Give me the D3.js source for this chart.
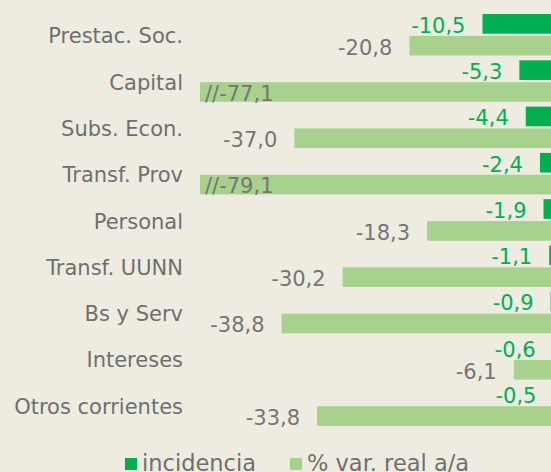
<!DOCTYPE html>
<html>
<head>
<meta charset="utf-8">
<script src="https://cdn.jsdelivr.net/npm/d3@7"></script>
<style>
  html, body { margin: 0; padding: 0; background: #eeece1; }
  svg { display: block; }
</style>
</head>
<body>
<svg id="chart" width="551" height="472"></svg>
<script>
const categories = ["Prestac. Soc.", "Capital", "Subs. Econ.", "Transf. Prov", "Personal", "Transf. UUNN", "Bs y Serv", "Intereses", "Otros corrientes"];
const incidencia = [-10.5, -5.3, -4.4, -2.4, -1.9, -1.1, -0.9, -0.6, -0.5];
const varReal = [-20.8, -77.1, -37.0, -79.1, -18.3, -30.2, -38.8, -6.1, -33.8];
const axisBreak = -50.3;
const seriesNames = ["incidencia", "% var. real a/a"];
const seriesKeys = ["inc", "var"];
const colors = { inc: "#00b050", var: "#a9d18e" };
const labelColors = { inc: "#00b050", var: "#757575" };

const W = 551, H = 472;
const svg = d3.select("#chart");
svg.append("rect").attr("width", W).attr("height", H).attr("fill", "#eeece1");

const x = d3.scaleLinear().domain([axisBreak, 0]).range([200, 557]).clamp(true);
const y = d3.scaleBand().domain(categories).range([11.7, 428.2]).paddingInner(0.1037).paddingOuter(0.05);
const sub = d3.scaleBand().domain(seriesKeys).range([0, y.bandwidth()]).paddingInner(0.1);

const fmt = v => d3.format(".1f")(v).replace(".", ",").replace("−", "-");
const font = "'DejaVu Sans', sans-serif";

const rows = categories.map((c, i) => ({ cat: c, inc: incidencia[i], var: varReal[i] }));

// category labels
svg.append("g").selectAll("text").data(rows).join("text")
  .attr("x", 183)
  .attr("y", d => y(d.cat) + 29.3)
  .attr("text-anchor", "end")
  .attr("font-family", font)
  .attr("font-size", 21)
  .attr("fill", "#6f6f6f")
  .text(d => d.cat);

seriesKeys.forEach(k => {
  const g = svg.append("g");
  g.selectAll("rect").data(rows).join("rect")
    .attr("x", d => x(d[k]))
    .attr("y", d => y(d.cat) + sub(k))
    .attr("width", d => x(0) - x(d[k]))
    .attr("height", sub.bandwidth())
    .attr("fill", colors[k]);
  g.selectAll("text").data(rows).join("text")
    .attr("x", d => d[k] < axisBreak ? x(d[k]) + 5 : x(d[k]) - 17)
    .attr("y", d => y(d.cat) + sub(k) + sub.bandwidth() - 1)
    .attr("text-anchor", d => d[k] < axisBreak ? "start" : "end")
    .attr("font-family", font)
    .attr("font-size", 21)
    .attr("fill", labelColors[k])
    .text(d => (d[k] < axisBreak ? "//" : "") + fmt(d[k]));
});

// legend
const legend = svg.append("g");
const legendItems = [
  { key: "inc", name: seriesNames[0], x: 125 },
  { key: "var", name: seriesNames[1], x: 290 }
];
legendItems.forEach(it => {
  legend.append("rect").attr("x", it.x).attr("y", 458).attr("width", 12).attr("height", 12).attr("fill", colors[it.key]);
  legend.append("text").attr("x", it.x + 17).attr("y", 471)
    .attr("font-family", font).attr("font-size", 22.5).attr("fill", "#6f6f6f")
    .text(it.name);
});
</script>
</body>
</html>
